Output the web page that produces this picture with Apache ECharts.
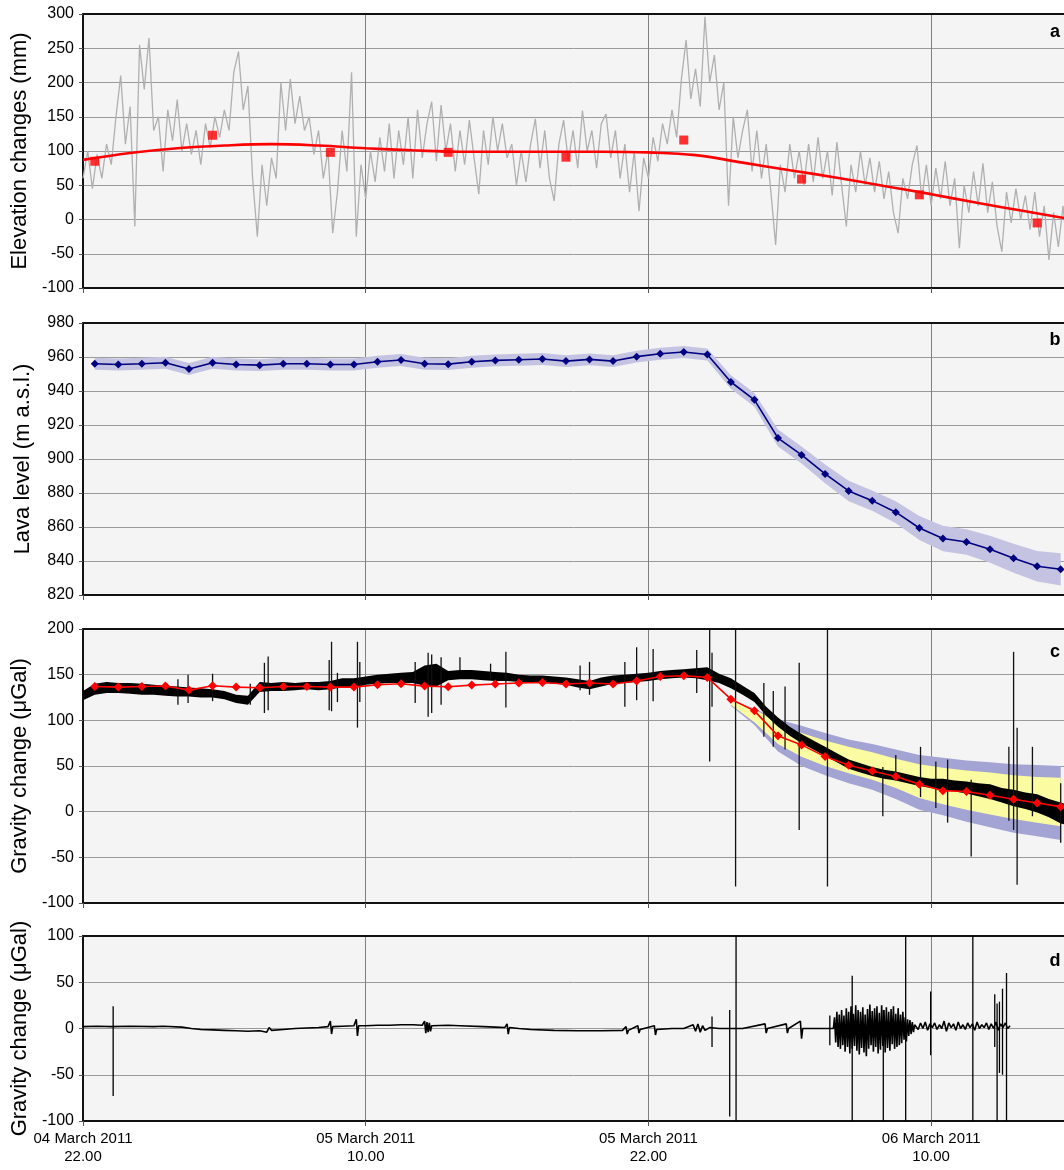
<!DOCTYPE html>
<html><head><meta charset="utf-8">
<script src="https://cdn.jsdelivr.net/npm/echarts@6/dist/echarts.min.js"></script>
<style>html,body{margin:0;padding:0;background:#fff}#c{width:1064px;height:1170px}</style>
</head><body><div id="c"></div>
<script>
// ---------- DATA ----------
// x = hours after 04 March 2011 22:00
const tickHours = [0, 12, 24, 36];
const tickLabels = ['04 March 2011\n22.00', '05 March 2011\n10.00', '05 March 2011\n22.00', '06 March 2011\n10.00'];
const xMaxHours = 41.64;   // right edge of the visible record

// Panel a: elevation changes (mm), GPS trace sampled every 0.2 h
const grayStep = 0.2;
const grayVals = [60,100,45,95,60,110,80,150,210,110, 165,-10,255,190,265,130,150,70,160,115,
 175,100,140,95,130,80,140,105,150,120, 160,130,215,245,160,195,60,-25,80,20,
 90,60,200,130,205,140,180,130,150,95, 130,60,100,-20,40,130,70,215,-25,80,
 30,100,55,120,70,140,60,130,80,150, 60,160,90,140,172,85,167,100,140,70,
 130,80,145,90,37,130,80,150,100,140, 90,110,50,100,55,110,147,75,130,60,
 27,110,145,85,130,75,159,100,130,75, 140,154,90,130,60,110,40,100,12,90,
 60,120,85,140,110,160,120,205,262,176, 220,165,296,200,240,160,200,20,150,90,
 130,160,70,130,60,110,40,-37,80,40, 110,60,100,50,110,55,120,60,100,35,
 113,50,-10,80,40,100,50,90,40,85, 30,70,10,-20,60,30,80,108,30,80,
 20,75,30,85,20,60,-42,50,10,70, 20,82,10,55,-10,-47,40,-5,45,0,
 35,-15,40,-25,20,-59,10,-40,20,-60];
const fitHours = [0,2,4,6,8,10,12,14,16,18,20,22,24,26,28,30,32,34,36,38,40,42];
const fitVals  = [87,97,104,108,110,108,104,101,99,99,99,99,98,94,83,72,61,49,37,24,12,0];
const sqHours = [0.5,5.5,10.5,15.5,20.5,25.5,30.5,35.5,40.5];
const sqVals  = [85,123,98,98,91,116,59,36,-5];

// Hourly points (panels b and c)
const hourly = [0.5,1.5,2.5,3.5,4.5,5.5,6.5,7.5,8.5,9.5,10.5,11.5,12.5,13.5,14.5,15.5,16.5,17.5,18.5,19.5,20.5,
 21.5,22.5,23.5,24.5,25.5,26.5,27.5,28.5,29.5,30.5,31.5,32.5,33.5,34.5,35.5,36.5,37.5,38.5,39.5,40.5,41.5];
// Panel b: lava level (m a.s.l.)
const lavaVals = [956,955.6,956,956.6,952.9,956.6,955.6,955.2,956,956,955.6,955.6,957.2,958.2,956,955.8,957.2,958,958.4,958.8,957.6,
 958.6,957.6,960.2,961.9,962.9,961.5,945.3,934.8,912.3,902.4,891.2,881.2,875.5,868.7,859.4,853.2,851.2,846.9,841.6,836.9,835.1];
const lavaErr = [3.5,3.5,3.5,3.5,3.5,3.5,3.5,3.5,3.5,3.5,3.5,3.5,3.5,3.5,3.5,3.5,3.5,3.5,3.5,3.5,3.5,
 3.5,3.5,3.5,3.5,3.5,3.5,4,4,5,5,5.5,6,6,6.5,7,7.5,7.5,8,8.5,9,9.5];

// Panel c: gravity change (µGal)
const gravModel = [137.1,136.4,137,137.6,133.1,137.8,136.4,135.6,137.1,137.1,136.4,136.4,138.9,140,137.5,136.7,138.6,139.7,140.8,141.5,139.7,
 140.8,139.7,143,148,148.8,147,123.2,110.4,83,73.1,60.3,50.9,44.6,38.4,30,23,22,18,13.6,9.5,5.5];
const bandHours = [27.5,28.5,29.5,30.5,31.5,32.5,33.5,34.5,35.5,36.5,37.5,38.5,39.5,40.5,41.5];
const outerTop  = [122,113,101,94,86,79,74,68,62,59,56,54,52,51,50];
const innerTop  = [121,112,97,86,78,71,65,58,52,48,45,43,40,38,37];
const innerBot  = [117,98,74,60,50,42,35,26,15,8,2,-3,-8,-12,-16];
const outerBot  = [116,95,66,50,40,31,24,14,2,-4,-11,-17,-23,-27,-31];
// continuous gravity record envelope, every 0.5 h
const cStep = 0.5;
const cLo = [122,128,130,130,129,128,128,127,126,126, 125,125,123,119,117,131,132,132,133,134,
 133,134,136,135,139,140,141,141,141,138, 137,144,145,145,144,143,143,142,141,141,
 140,139,136,134,137,140,141,142,143,145, 146,147,146,144,141,135,128,120,105,93,
 83,75,68,61,54,47,43,39,36,34, 31,28,26,24,22,20,17,14,10,6, 3,-1,-6,-13,-16];
const cHi = [132,140,142,141,141,140,139,138,137,136, 135,134,132,128,127,142,141,142,141,142,
 142,143,146,146,148,150,151,152,153,160, 162,154,155,155,154,153,152,150,149,149,
 148,147,145,143,147,149,150,151,152,154, 155,156,157,158,151,146,138,130,115,103,
 93,85,78,71,64,57,53,49,46,44, 41,38,36,36,34,33,31,30,26,24, 21,19,14,10,6];
// spikes: [hour, top, bottom]
const cSpikes = [[4.03,145,117],[4.46,150,119],[5.5,151,121],[7.1,140,117],[7.7,163,108],[7.86,170,111],[10.45,166,111],
 [10.55,186,110],[10.8,152,120],[11.65,186,92],[11.75,164,120],[14.1,164,119],[14.65,174,104],[14.8,172,108],[15.2,169,117],
 [16.0,169,155],[17.3,162,145],[17.95,175,114],[21.1,160,133],[21.5,164,128],[23.0,164,115],[23.5,180,122],[24.2,178,121],
 [26.05,177,130],[26.6,200,55],[26.7,174,115],[27.7,200,-82],[28.9,141,82],[29.3,132,71],[29.8,137,68],[30.4,163,-20],
 [31.6,200,-82],[33.95,49,-5],[34.5,62,35],[35.55,71,16],[36.2,55,4],[36.7,57,-12],[37.7,35,-49],[39.3,71,-10],
 [39.5,175,-20],[39.65,92,-80],[40.3,71,-5],[41.5,31,-34]];

// Panel d: residual gravity (µGal)
const dQuiet = [[0,2],[0.6,2.5],[1.2,2],[2,2.5],[3,2],[3.4,2.5],[4.2,1.5],[4.6,0],[5,-1],[5.5,-1.5],[6,-2],[6.5,-2.5],[7,-3],
 [7.5,-2.5],[7.8,-4],[7.9,1],[8,-2],[8.5,-1],[9,0],[9.5,0.5],[10,1],[10.4,2],[10.5,8],[10.55,-6],[10.6,2],[11,2.5],[11.5,3],
 [11.6,10],[11.65,-8],[11.7,3],[12,3],[12.5,3.5],[13,3.5],[13.5,4],[14,4],[14.4,3.5],[14.5,8],[14.55,-5],[14.6,7],[14.65,-4],
 [14.7,6],[14.75,-3],[14.8,3],[15.5,3.5],[16,3],[17,2],[17.5,1.5],[17.9,1],[18,5],[18.05,-6],[18.1,1],[18.5,0],[19,-1],[20,-2],
 [21,-2.5],[22,-2.5],[22.9,-2],[23.05,2],[23.1,-6],[23.15,-2],[23.55,3],[23.6,-5],[23.65,-1],[24.25,3],[24.3,-7],[24.35,-1],
 [25,0],[25.5,0],[25.9,4],[26,-3],[26.1,5],[26.2,-4],[26.3,3],[26.4,-2],[26.6,1],[27,0],[28,0],[28.95,5],[29,-5],[29.05,0],
 [29.85,5],[29.9,-5],[29.95,0],[30.45,8],[30.5,-11],[30.55,0],[31.5,0],[31.85,0]];
const dBurstStart = 31.9, dBurstStep = 0.05;
const dBurstVals = [12,-15,18,-20,15,-22,20,-18,14,-25, 22,-20,18,-27,24,-22,16,-19,25,-24,
 20,-28,18,-21,23,-26,15,-30,21,-22, 26,-18,19,-25,22,-20,24,-27,17,-23,
 25,-19,20,-26,23,-21,18,-24,21,-17, 24,-22,16,-20,22,-18,15,-16,18,-12,
 12,-14,10,-8,9,-6,7,-4,4];
const dTailStart = 35.35, dTailStep = 0.1;
const dTailVals = [5,-1,6,0,7,-2,5,1,6,-1, 4,0,8,-3,6,1,5,-2,7,0, 4,-1,6,1,5,-2,7,0,4,1, 6,-1,5,0,7,-2,5,1,6,0, 3];
const dSpikes = [[1.28,24,-73],[26.7,13,-20],[27.45,20,-95],[27.72,100,-100],[31.7,14,-18],[32.65,57,-100],[33.97,20,-100],
 [34.92,100,-100],[35.98,40,-29],[37.77,100,-100],[38.7,37,-20],[38.8,27,-100],[38.9,29,-48],[39.03,43,-50],[39.2,60,-100]];

// ---------- CHART ----------
const FONT = 'Liberation Sans, Arial, sans-serif';
const chart = echarts.init(document.getElementById('c'), null, {renderer: 'canvas'});
const L = 83;
const panels = [
  {top: 14, height: 274, min: -100, max: 300, interval: 50, name: 'Elevation changes (mm)'},
  {top: 323, height: 272, min: 820, max: 980, interval: 20, name: 'Lava level (m a.s.l.)'},
  {top: 629, height: 274, min: -100, max: 200, interval: 50, name: 'Gravity change (\u03bcGal)'},
  {top: 936, height: 185, min: -100, max: 100, interval: 50, name: 'Gravity change (\u03bcGal)'}
];
const frame = {show: true, onZero: false, lineStyle: {color: '#111', width: 2}};
const grids = panels.map(p => ({left: L, right: 0, top: p.top, height: p.height, show: true,
  backgroundColor: '#f4f4f4', borderWidth: 0}));
const xAxes = panels.map((p, i) => ({
  type: 'value', gridIndex: i, min: 0, max: xMaxHours, interval: 12, position: 'bottom',
  axisLine: frame,
  axisTick: {show: true, length: 5, lineStyle: {color: '#555'}},
  splitLine: {show: true, lineStyle: {color: '#808080', width: 1}},
  axisLabel: {show: i === 3, color: '#000', fontSize: 15, fontFamily: FONT, lineHeight: 18, margin: 9,
    showMaxLabel: false,
    formatter: v => { const k = tickHours.indexOf(v); return k >= 0 ? tickLabels[k] : ''; }}
})).concat(panels.map((p, i) => ({
  type: 'value', gridIndex: i, min: 0, max: xMaxHours, interval: 12, position: 'top',
  axisLine: frame, axisTick: {show: false}, axisLabel: {show: false}, splitLine: {show: false}
})));
const yAxes = panels.map((p, i) => ({
  type: 'value', gridIndex: i, min: p.min, max: p.max, interval: p.interval,
  name: p.name, nameLocation: 'middle', nameGap: 49,
  nameTextStyle: {fontSize: 22, fontFamily: FONT, color: '#000'},
  axisLine: frame,
  axisTick: {show: true, length: 4, lineStyle: {color: '#555'}},
  splitLine: {show: true, lineStyle: {color: '#9a9a9a', width: 1}},
  axisLabel: {color: '#000', fontSize: 16, fontFamily: FONT, margin: 9}
}));

function spikeItem(color, w) {
  return function (params, api) {
    const h = api.value(0);
    const a = api.coord([h, api.value(1)]);
    const b = api.coord([h, api.value(2)]);
    return {type: 'line', shape: {x1: a[0], y1: a[1], x2: b[0], y2: b[1]}, style: {stroke: color, lineWidth: w}};
  };
}
// filled band between lo and hi, drawn through the axes' scales
function bandSeries(gi, hours, lo, hi, color, z) {
  return {type: 'custom', xAxisIndex: gi, yAxisIndex: gi, data: [[hours[0], lo[0]]], encode: {x: 0, y: 1}, z: z,
    clip: true, silent: true,
    renderItem: function (params, api) {
      const pts = [];
      for (let i = 0; i < hours.length; i++) pts.push(api.coord([hours[i], hi[i]]));
      for (let i = hours.length - 1; i >= 0; i--) pts.push(api.coord([hours[i], lo[i]]));
      return {type: 'polygon', shape: {points: pts}, style: {fill: color}};
    }};
}
const pair = (hs, vs) => hs.map((h, i) => [h, vs[i]]);
const stepHours = (start, step, n) => Array.from({length: n}, (_, i) => +(start + i * step).toFixed(3));
const stepPairs = (start, step, vs) => pair(stepHours(start, step, vs.length), vs);

const series = [];
// ---- a
series.push({type: 'line', xAxisIndex: 0, yAxisIndex: 0, data: stepPairs(0, grayStep, grayVals), symbol: 'none',
  lineStyle: {color: '#b0b0b0', width: 1.3}, z: 2});
series.push({type: 'line', xAxisIndex: 0, yAxisIndex: 0, data: pair(fitHours, fitVals), symbol: 'none', smooth: 0.4,
  lineStyle: {color: '#ff0000', width: 2.6}, z: 3});
series.push({type: 'scatter', xAxisIndex: 0, yAxisIndex: 0, data: pair(sqHours, sqVals), symbol: 'rect', symbolSize: 9,
  itemStyle: {color: '#ff0000'}, z: 4});
// ---- b
series.push(bandSeries(1, hourly, lavaVals.map((v, i) => v - lavaErr[i]), lavaVals.map((v, i) => v + lavaErr[i]), '#c4c4e2', 1));
series.push({type: 'line', xAxisIndex: 1, yAxisIndex: 1, data: pair(hourly, lavaVals), symbol: 'diamond', symbolSize: 8,
  itemStyle: {color: '#000080'}, lineStyle: {color: '#000080', width: 1.6}, z: 3});
// ---- c
series.push(bandSeries(2, bandHours, outerBot, outerTop, '#a4a4d4', 1));
series.push(bandSeries(2, bandHours, innerBot, innerTop, '#fbfba2', 1));
const cHours = stepHours(0, cStep, cLo.length);
series.push(bandSeries(2, cHours, cLo, cHi, '#000', 2));
series.push({type: 'custom', xAxisIndex: 2, yAxisIndex: 2, data: cSpikes, encode: {x: 0, y: [1, 2]},
  renderItem: spikeItem('#111', 1.3), z: 3});
series.push({type: 'line', xAxisIndex: 2, yAxisIndex: 2, data: pair(hourly, gravModel), symbol: 'diamond', symbolSize: 9,
  itemStyle: {color: '#ff0000'}, lineStyle: {color: '#ff0000', width: 1.6}, z: 4});
// ---- d
const dTrace = dQuiet.concat(stepPairs(dBurstStart, dBurstStep, dBurstVals), stepPairs(dTailStart, dTailStep, dTailVals));
series.push({type: 'line', xAxisIndex: 3, yAxisIndex: 3, data: dTrace, symbol: 'none',
  lineStyle: {color: '#000', width: 1.6}, z: 2});
series.push({type: 'custom', xAxisIndex: 3, yAxisIndex: 3, data: dSpikes, encode: {x: 0, y: [1, 2]},
  renderItem: spikeItem('#000', 1.3), z: 3});

const letters = [['a', 32], ['b', 340], ['c', 652], ['d', 961]];
chart.setOption({
  animation: false,
  backgroundColor: '#fff',
  grid: grids, xAxis: xAxes, yAxis: yAxes, series: series,
  graphic: letters.map(l => ({type: 'text', x: 1055, y: l[1], z: 100,
    style: {text: l[0], font: 'bold 18px ' + FONT, fill: '#000', textAlign: 'center', textVerticalAlign: 'middle'}}))
});
</script></body></html>
